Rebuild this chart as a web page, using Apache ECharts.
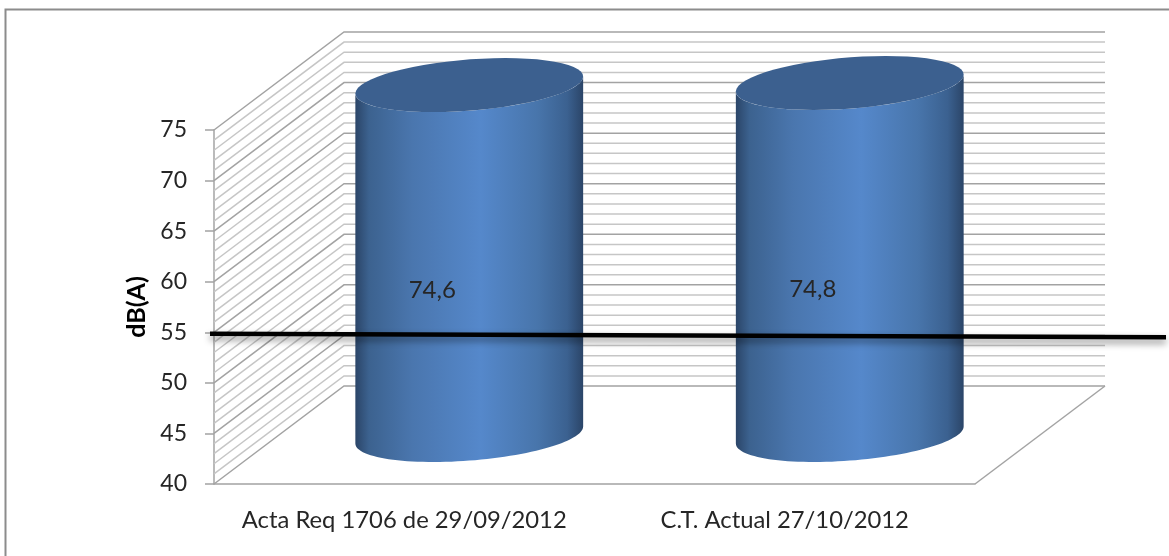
<!DOCTYPE html>
<html>
<head>
<meta charset="utf-8">
<style>
  html, body { margin: 0; padding: 0; background: #fff; }
  #main { width: 1169px; height: 556px; }
</style>
<script src="https://cdn.jsdelivr.net/npm/echarts@6/dist/echarts.min.js"></script>
</head>
<body>
<div id="main"></div>
<script>
var categories = ['Acta Req 1706 de 29/09/2012', 'C.T. Actual 27/10/2012'];
var values = [74.6, 74.8];
var valueLabels = ['74,6', '74,8'];
var limitValue = [55];
var wallLevels = [40, 41, 42, 43, 44, 45, 46, 47, 48, 49, 50, 51, 52, 53, 54, 55, 56, 57,
  58, 59, 60, 61, 62, 63, 64, 65, 66, 67, 68, 69, 70, 71, 72, 73, 74, 75];

// fake 3d: the back wall is the front plane pushed by this much
var depthX = 130;
var depthY = 98;

var bodyStops = [
  { offset: 0, color: '#2b4568' },
  { offset: 0.06, color: '#3c628f' },
  { offset: 0.25, color: '#4a76ae' },
  { offset: 0.55, color: '#5588cb' },
  { offset: 0.8, color: '#4875ab' },
  { offset: 0.93, color: '#3b6190' },
  { offset: 1, color: '#2b4568' }
];

function renderWall (params, api) {
  var level = api.value(0);
  var box = params.coordSys;
  var y = api.coord([0, level])[1];
  var color = level % 5 === 0 ? '#a3a3a3' : '#c6c6c6';
  return {
    type: 'polyline',
    shape: { points: [
      [box.x, y],
      [box.x + depthX, y - depthY],
      [box.x + box.width + depthX, y - depthY]
    ] },
    style: { stroke: color, lineWidth: 1.5, fill: null }
  };
}

function renderFloor (params, api) {
  var box = params.coordSys;
  var y = box.y + box.height;
  return {
    type: 'polyline',
    shape: { points: [
      [box.x + box.width, y],
      [box.x + box.width + depthX, y - depthY]
    ] },
    style: { stroke: '#a3a3a3', lineWidth: 1.5, fill: null }
  };
}

// points of the skewed ellipse between two angles
function ellipsePoints (cx, cy, ux, vx, vy, from, to) {
  var pts = [];
  for (var i = 0; i <= 60; i++) {
    var t = from + (to - from) * i / 60;
    pts.push([cx + ux * Math.cos(t) + vx * Math.sin(t), cy + vy * Math.sin(t)]);
  }
  return pts;
}

function renderCylinder (params, api) {
  var idx = api.value(0);
  var val = api.value(1);
  var top = api.coord([idx, val]);
  var base = api.coord([idx, 40]);
  var band = api.size([1, 0])[0];
  var ux = band * 0.284;
  var vx = 36;
  var vy = -27;
  var cx = top[0] + depthX / 2;
  var topY = top[1] - depthY / 2;
  var baseY = base[1] - depthY / 2;
  // where the outline of the ellipse is widest
  var a = Math.atan2(vx, ux);
  var half = Math.sqrt(ux * ux + vx * vx);
  var body = ellipsePoints(cx, baseY, ux, vx, vy, a, a - Math.PI)
    .concat(ellipsePoints(cx, topY, ux, vx, vy, a - Math.PI, a));
  return {
    type: 'group',
    children: [
      {
        type: 'polygon',
        shape: { points: body },
        style: { fill: { type: 'linear', x: cx - half, y: 0, x2: cx + half, y2: 0, global: true, colorStops: bodyStops } }
      },
      {
        type: 'polygon',
        shape: { points: ellipsePoints(cx, topY, ux, vx, vy, 0, 2 * Math.PI) },
        style: { fill: '#3c608f' }
      }
    ]
  };
}

function renderValueLabel (params, api) {
  var idx = api.value(0);
  var val = api.value(1);
  var p = api.coord([idx, (val + 40) / 2]);
  return {
    type: 'text',
    x: p[0] + 28,
    y: p[1] - 19,
    style: {
      text: valueLabels[idx],
      fill: '#262626',
      font: '24px Lato',
      align: 'center',
      verticalAlign: 'middle'
    }
  };
}

function renderLimit (params, api) {
  var box = params.coordSys;
  var y = api.coord([0, api.value(0)])[1];
  return {
    type: 'line',
    shape: { x1: box.x - 4, y1: y + 1.5, x2: box.x + box.width + 191, y2: y + 5 },
    style: {
      stroke: '#000',
      lineWidth: 4.5,
      shadowColor: 'rgba(0,0,0,0.45)',
      shadowBlur: 7,
      shadowOffsetY: 4
    }
  };
}

var myChart = echarts.init(document.getElementById('main'));

var option = {
  animation: false,
  backgroundColor: '#fff',
  graphic: [
    {
      type: 'polyline',
      silent: true,
      shape: { points: [[5.5, 556], [5.5, 9.5], [1169, 9.5]] },
      style: { stroke: '#8c8c8c', lineWidth: 2, fill: null }
    }
  ],
  grid: { left: 214, top: 130, width: 761, height: 354 },
  xAxis: {
    type: 'category',
    data: categories,
    axisLine: { lineStyle: { color: '#a3a3a3', width: 1.5 } },
    axisTick: { show: false },
    axisLabel: { color: '#262626', fontFamily: 'Lato', fontSize: 23.8, margin: 24, interval: 0 }
  },
  yAxis: {
    type: 'value',
    min: 40,
    max: 75,
    interval: 5,
    name: 'dB(A)',
    nameLocation: 'middle',
    nameGap: 62,
    nameTextStyle: { color: '#000', fontFamily: 'Lato', fontSize: 25, fontWeight: 'bold' },
    axisLine: { show: true, lineStyle: { color: '#a3a3a3', width: 1.5 } },
    axisTick: { show: true, length: 9, lineStyle: { color: '#a3a3a3', width: 1.5 } },
    axisLabel: { color: '#262626', fontFamily: 'Lato', fontSize: 23, margin: 27, padding: [3, 0, 0, 0] },
    splitLine: { show: false }
  },
  series: [
    { type: 'custom', z: 1, renderItem: renderWall, data: wallLevels.map(function (v) { return [v]; }), encode: { y: 0 } },
    { type: 'custom', z: 1, renderItem: renderFloor, data: [[40]], encode: { y: 0 } },
    { type: 'custom', z: 2, renderItem: renderCylinder, data: values.map(function (v, i) { return [i, v]; }), encode: { x: 0, y: 1 } },
    { type: 'custom', z: 4, renderItem: renderLimit, data: limitValue.map(function (v) { return [v]; }), encode: { y: 0 } },
    { type: 'custom', z: 3, renderItem: renderValueLabel, data: values.map(function (v, i) { return [i, v]; }), encode: { x: 0, y: 1 } }
  ]
};

myChart.setOption(option);
</script>
</body>
</html>
